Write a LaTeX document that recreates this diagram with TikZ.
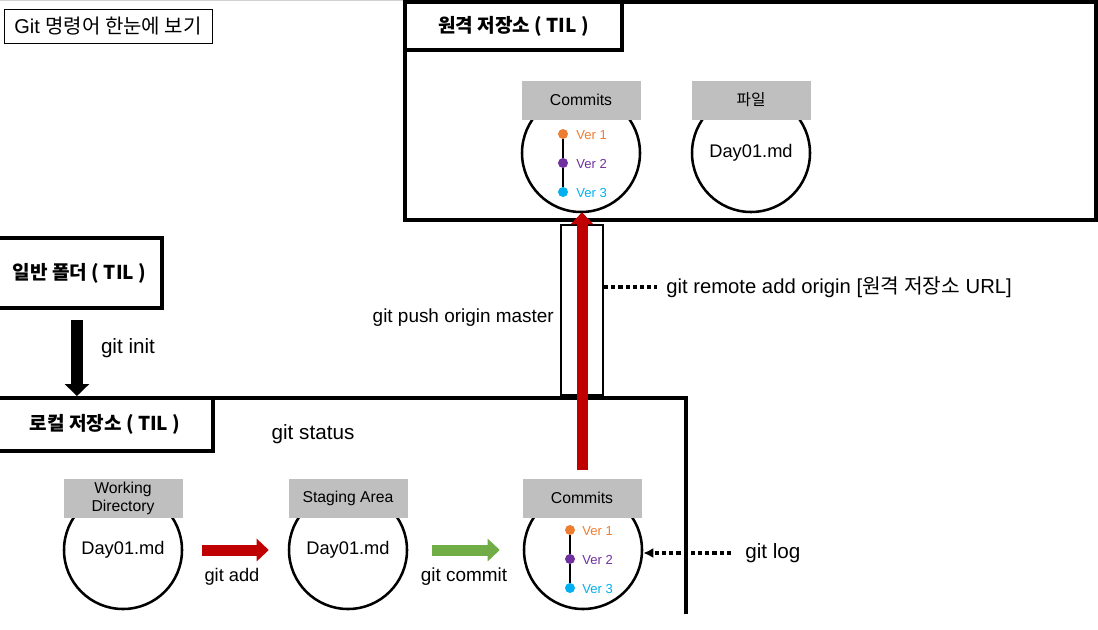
\documentclass[tikz,border=0pt]{standalone}
\usepackage{fontspec}
\setmainfont{Liberation Sans}
\newfontfamily\kr{Noto Sans CJK KR}
\usetikzlibrary{arrows.meta,calc}
\definecolor{lgray}{HTML}{BFBFBF}
\definecolor{dred}{HTML}{C00000}
\definecolor{lgreen}{HTML}{70AD47}
\definecolor{vorange}{HTML}{ED7D31}
\definecolor{vpurple}{HTML}{7030A0}
\definecolor{vcyan}{HTML}{00B0F0}
\newcommand{\fsz}[1]{\fontsize{#1}{#1}\selectfont}
\begin{document}
\begin{tikzpicture}[x=0.75pt,y=-0.75pt,
  frame/.style={draw, line width=3pt},
  tabbox/.style={draw, line width=3pt, fill=white, inner sep=0pt, font=\kr\bfseries\fsz{14.3pt}},
  lbl/.style={fill=lgray, minimum width=89.25pt, minimum height=29.25pt, inner sep=0pt, align=center, font=\fontsize{11.8pt}{13.5pt}\selectfont},
  circ/.style={circle, draw, line width=1.9pt, minimum size=88.5pt, inner sep=0pt, font=\fsz{13.7pt}},
  vdot/.style={circle, fill, inner sep=0pt, minimum size=7.5pt},
  ver/.style={anchor=west, inner sep=0pt, font=\fsz{9.8pt}},
  cmd/.style={inner sep=0pt, font=\fsz{15.5pt}},
  fatarrow/.style={line width=8.25pt, -{Triangle[length=9pt,width=16.5pt]}},
  dotline/.style={line width=2.4pt, dash pattern=on 3.2pt off 2.2pt},
]
\useasboundingbox (0,0) rectangle (1098,629);
\draw[gray!35, line width=0.75pt] (0,0.5) -- (1098,0.5);

% title
\node[draw, line width=0.75pt, minimum width=156pt, minimum height=25.5pt, inner sep=0pt, font=\fsz{15pt}] (title) at (108,26) {Git {\kr 명령어 한눈에 보기}};

% remote repository
\draw[frame] (405,2) rectangle (1096,220);
\node[tabbox, minimum width=162.75pt, minimum height=36pt] (rtab) at (513.5,26) {원격 저장소 ( TIL )};

\node[circ] (rcc) at (581,153) {};
\node[lbl] (rcl) at (581,100) {Commits};
\node[vdot, vorange] (r1) at (563,134) {};
\node[vdot, vpurple] (r2) at (563,163) {};
\node[vdot, vcyan] (r3) at (563,192) {};
\draw[line width=2.2pt] (r1) -- (r2) -- (r3);
\node[ver, vorange] (rv1) at (576,135) {Ver 1};
\node[ver, vpurple] (rv2) at (576,164) {Ver 2};
\node[ver, vcyan] (rv3) at (576,193) {Ver 3};

\node[circ] (rfc) at (751,153) {Day01.md};
\node[lbl] (rfl) at (751,100) {\kr 파일};

% push channel box
\node[draw, line width=1.5pt, fill=white, minimum width=31.5pt, minimum height=127.5pt, inner sep=0pt] (pbox) at (582,310) {};

% general folder
\node[tabbox, minimum width=123.75pt, minimum height=52.5pt] (folder) at (79.5,273) {일반 폴더 ( TIL )};

% local repository
\draw[frame] (-5,398) -- (686,398) -- (686,614);
\node[tabbox, minimum width=162pt, minimum height=39.75pt] (ltab) at (105,424.5) {로컬 저장소 ( TIL )};

\node[circ] (wdc) at (123,550) {\raisebox{-2pt}{Day01.md}};
\node[lbl] (wdl) at (123,498) {Working\\Directory};
\node[circ] (sac) at (348,550) {\raisebox{-2pt}{Day01.md}};
\node[lbl] (sal) at (348,498) {Staging Area};
\node[circ] (lcc) at (583,550) {};
\node[lbl] (lcl) at (582,498) {Commits};
\node[vdot, vorange] (l1) at (570,530) {};
\node[vdot, vpurple] (l2) at (570,559) {};
\node[vdot, vcyan] (l3) at (570,588) {};
\draw[line width=2.2pt] (l1) -- (l2) -- (l3);
\node[ver, vorange] (lv1) at (582,531) {Ver 1};
\node[ver, vpurple] (lv2) at (582,560) {Ver 2};
\node[ver, vcyan] (lv3) at (582,589) {Ver 3};

% commands
\node[cmd] (ginit) at (128,348) {git init};
\node[cmd] (gstatus) at (313,434) {git status};
\node[cmd, font=\fsz{13.7pt}] (gadd) at (232,577) {git add};
\node[cmd, font=\fsz{14.2pt}] (gcommit) at (464,577) {git commit};
\node[cmd, anchor=east, font=\fsz{14.2pt}] (gpush) at (554,318) {git push origin master};
\node[cmd, anchor=west, font=\fsz{15.2pt}] (gremote) at (666,287) {git remote add origin [{\kr 원격 저장소} URL]};
\node[cmd, anchor=west] (glog) at (745,553) {git log};

% connectors
\draw[fatarrow, line width=9pt, -{Triangle[length=9pt,width=18pt]}]
  ([xshift=-1.9pt, yshift=-7.5pt]folder.south) -- ([xshift=-1.9pt]folder.south |- ltab.north);
\draw[fatarrow, dred, shorten <=14.25pt, shorten >=14.25pt] (wdc.east) -- (sac.west);
\draw[fatarrow, lgreen, shorten <=18pt, shorten >=17.25pt] (sac.east) -- (lcc.west);
\draw[fatarrow, dred, shorten <=6pt, shorten >=-0.75pt] (lcl.north) -- (lcl.north |- rcc.south);
\draw[dotline, shorten >=6.75pt] (gremote.west -| pbox.east) -- (gremote.west);
\draw[dotline, shorten <=10.5pt, -{Latex[length=7.5pt,width=7.5pt]}] (glog.west) -- (glog.west -| lcc.east);
\end{tikzpicture}
\end{document}
